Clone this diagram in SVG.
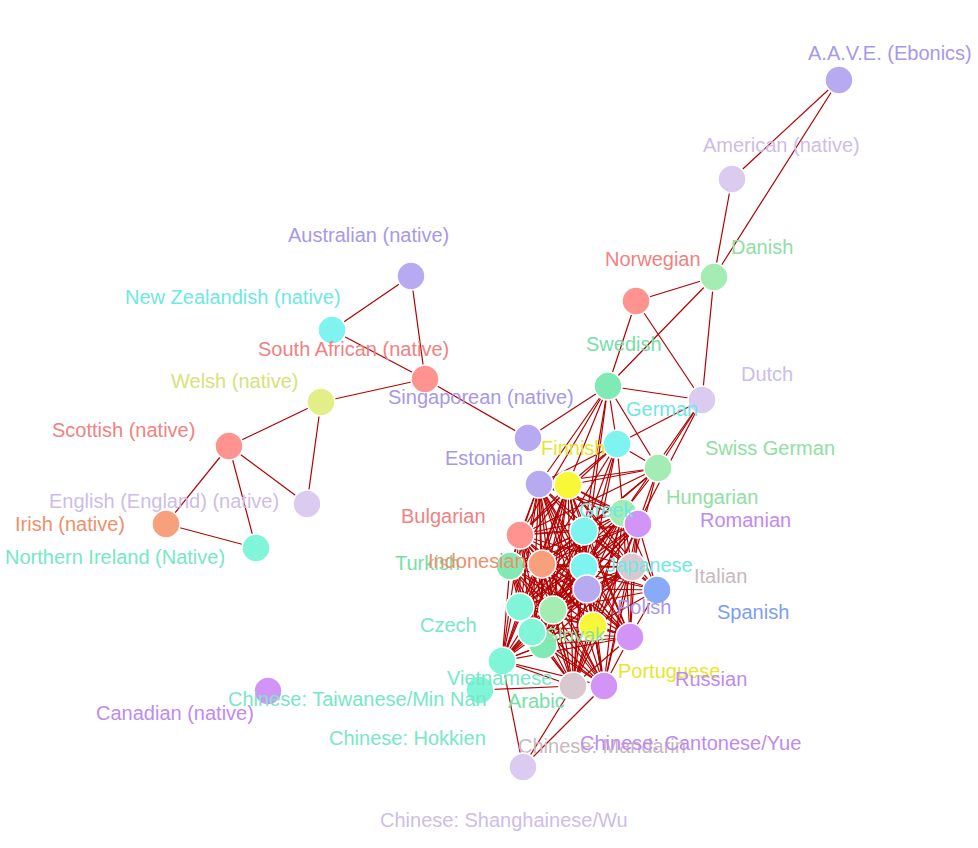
<svg xmlns="http://www.w3.org/2000/svg" width="978" height="848" viewBox="0 0 978 848">
<style>
.e line{stroke:#b30000;stroke-width:1.2}
circle{stroke:#fff;stroke-width:1.5}
text{font-family:"Liberation Sans",Arial,Helvetica,sans-serif;font-size:20px}
.lav circle{fill:#b8aaf0}.lav text{fill:#a898e8}
.lil circle{fill:#dccbf0}.lil text{fill:#cdbde8}
.red circle{fill:#ff9390}.red text{fill:#f08282}
.lgr circle{fill:#a3ecb4}.lgr text{fill:#90e0a2}
.mnt circle{fill:#80eab4}.mnt text{fill:#76e0a8}
.cya circle{fill:#7ef3f0}.cya text{fill:#6ee8e4}
.yel circle{fill:#f8f838}.yel text{fill:#e6e62e}
.wel circle{fill:#e2ef88}.wel text{fill:#d6e27c}
.ora circle{fill:#f8a07c}.ora text{fill:#ee906c}
.aqu circle{fill:#80f5d8}.aqu text{fill:#76e8c6}
.pur circle{fill:#d394f8}.pur text{fill:#c08af0}
.gry circle{fill:#d8c8d0}.gry text{fill:#c8b8c0}
.blu circle{fill:#88aaf8}.blu text{fill:#7c9ef0}
</style>
<rect width="978" height="848" fill="#fff"/>
<g id="connectors" class="e">
<line x1="839" y1="80" x2="732" y2="179"/>
<line x1="839" y1="80" x2="714" y2="277"/>
<line x1="732" y1="179" x2="714" y2="277"/>
<line x1="714" y1="277" x2="636" y2="301"/>
<line x1="714" y1="277" x2="608" y2="386"/>
<line x1="714" y1="277" x2="702" y2="400"/>
<line x1="636" y1="301" x2="608" y2="386"/>
<line x1="636" y1="301" x2="702" y2="400"/>
<line x1="608" y1="386" x2="702" y2="400"/>
<line x1="608" y1="386" x2="528" y2="438"/>
<line x1="425" y1="379" x2="528" y2="438"/>
<line x1="411" y1="276" x2="332" y2="330"/>
<line x1="411" y1="276" x2="425" y2="379"/>
<line x1="332" y1="330" x2="425" y2="379"/>
<line x1="425" y1="379" x2="321" y2="402"/>
<line x1="321" y1="402" x2="229" y2="446"/>
<line x1="321" y1="402" x2="307" y2="504"/>
<line x1="229" y1="446" x2="307" y2="504"/>
<line x1="229" y1="446" x2="166" y2="524"/>
<line x1="229" y1="446" x2="256" y2="548"/>
<line x1="166" y1="524" x2="256" y2="548"/>
<line x1="523" y1="767" x2="502" y2="661"/>
<line x1="523" y1="767" x2="573" y2="686"/>
<line x1="523" y1="767" x2="604" y2="686"/>
<line x1="480" y1="690" x2="573" y2="686"/>
<line x1="608" y1="386" x2="617" y2="444"/>
<line x1="608" y1="386" x2="658" y2="468"/>
<line x1="608" y1="386" x2="568" y2="485"/>
<line x1="608" y1="386" x2="539" y2="484"/>
<line x1="608" y1="386" x2="584" y2="531"/>
<line x1="608" y1="386" x2="584" y2="567"/>
<line x1="608" y1="386" x2="520" y2="535"/>
<line x1="617" y1="444" x2="702" y2="400"/>
<line x1="617" y1="444" x2="658" y2="468"/>
<line x1="617" y1="444" x2="568" y2="485"/>
<line x1="617" y1="444" x2="539" y2="484"/>
<line x1="617" y1="444" x2="584" y2="531"/>
<line x1="617" y1="444" x2="623" y2="513"/>
<line x1="617" y1="444" x2="520" y2="535"/>
<line x1="617" y1="444" x2="584" y2="567"/>
<line x1="617" y1="444" x2="587" y2="589"/>
<line x1="617" y1="444" x2="542" y2="564"/>
<line x1="658" y1="468" x2="702" y2="400"/>
<line x1="658" y1="468" x2="568" y2="485"/>
<line x1="658" y1="468" x2="539" y2="484"/>
<line x1="658" y1="468" x2="584" y2="531"/>
<line x1="658" y1="468" x2="623" y2="513"/>
<line x1="658" y1="468" x2="638" y2="524"/>
<line x1="658" y1="468" x2="520" y2="535"/>
<line x1="658" y1="468" x2="542" y2="564"/>
<line x1="658" y1="468" x2="632" y2="567"/>
<line x1="702" y1="400" x2="623" y2="513"/>
<line x1="702" y1="400" x2="638" y2="524"/>
<line x1="657" y1="590" x2="638" y2="524"/>
<line x1="657" y1="590" x2="623" y2="513"/>
<line x1="657" y1="590" x2="632" y2="567"/>
<line x1="657" y1="590" x2="587" y2="589"/>
<line x1="657" y1="590" x2="584" y2="567"/>
<line x1="657" y1="590" x2="584" y2="531"/>
<line x1="657" y1="590" x2="593" y2="626"/>
<line x1="657" y1="590" x2="630" y2="637"/>
<line x1="657" y1="590" x2="568" y2="485"/>
<line x1="657" y1="590" x2="553" y2="610"/>
<line x1="657" y1="590" x2="542" y2="564"/>
<line x1="539" y1="484" x2="568" y2="485"/>
<line x1="539" y1="484" x2="520" y2="535"/>
<line x1="539" y1="484" x2="584" y2="531"/>
<line x1="539" y1="484" x2="623" y2="513"/>
<line x1="539" y1="484" x2="638" y2="524"/>
<line x1="539" y1="484" x2="510" y2="566"/>
<line x1="539" y1="484" x2="542" y2="564"/>
<line x1="539" y1="484" x2="584" y2="567"/>
<line x1="539" y1="484" x2="632" y2="567"/>
<line x1="539" y1="484" x2="587" y2="589"/>
<line x1="539" y1="484" x2="520" y2="607"/>
<line x1="539" y1="484" x2="553" y2="610"/>
<line x1="539" y1="484" x2="593" y2="626"/>
<line x1="539" y1="484" x2="532" y2="632"/>
<line x1="539" y1="484" x2="630" y2="637"/>
<line x1="539" y1="484" x2="543" y2="645"/>
<line x1="539" y1="484" x2="502" y2="661"/>
<line x1="539" y1="484" x2="573" y2="686"/>
<line x1="539" y1="484" x2="604" y2="686"/>
<line x1="568" y1="485" x2="520" y2="535"/>
<line x1="568" y1="485" x2="584" y2="531"/>
<line x1="568" y1="485" x2="623" y2="513"/>
<line x1="568" y1="485" x2="638" y2="524"/>
<line x1="568" y1="485" x2="510" y2="566"/>
<line x1="568" y1="485" x2="542" y2="564"/>
<line x1="568" y1="485" x2="584" y2="567"/>
<line x1="568" y1="485" x2="632" y2="567"/>
<line x1="568" y1="485" x2="587" y2="589"/>
<line x1="568" y1="485" x2="520" y2="607"/>
<line x1="568" y1="485" x2="553" y2="610"/>
<line x1="568" y1="485" x2="593" y2="626"/>
<line x1="568" y1="485" x2="532" y2="632"/>
<line x1="568" y1="485" x2="630" y2="637"/>
<line x1="568" y1="485" x2="543" y2="645"/>
<line x1="568" y1="485" x2="502" y2="661"/>
<line x1="568" y1="485" x2="573" y2="686"/>
<line x1="568" y1="485" x2="604" y2="686"/>
<line x1="520" y1="535" x2="584" y2="531"/>
<line x1="520" y1="535" x2="623" y2="513"/>
<line x1="520" y1="535" x2="638" y2="524"/>
<line x1="520" y1="535" x2="510" y2="566"/>
<line x1="520" y1="535" x2="542" y2="564"/>
<line x1="520" y1="535" x2="584" y2="567"/>
<line x1="520" y1="535" x2="632" y2="567"/>
<line x1="520" y1="535" x2="587" y2="589"/>
<line x1="520" y1="535" x2="520" y2="607"/>
<line x1="520" y1="535" x2="553" y2="610"/>
<line x1="520" y1="535" x2="593" y2="626"/>
<line x1="520" y1="535" x2="532" y2="632"/>
<line x1="520" y1="535" x2="630" y2="637"/>
<line x1="520" y1="535" x2="543" y2="645"/>
<line x1="520" y1="535" x2="502" y2="661"/>
<line x1="520" y1="535" x2="573" y2="686"/>
<line x1="520" y1="535" x2="604" y2="686"/>
<line x1="584" y1="531" x2="623" y2="513"/>
<line x1="584" y1="531" x2="638" y2="524"/>
<line x1="584" y1="531" x2="510" y2="566"/>
<line x1="584" y1="531" x2="542" y2="564"/>
<line x1="584" y1="531" x2="584" y2="567"/>
<line x1="584" y1="531" x2="632" y2="567"/>
<line x1="584" y1="531" x2="587" y2="589"/>
<line x1="584" y1="531" x2="520" y2="607"/>
<line x1="584" y1="531" x2="553" y2="610"/>
<line x1="584" y1="531" x2="593" y2="626"/>
<line x1="584" y1="531" x2="532" y2="632"/>
<line x1="584" y1="531" x2="630" y2="637"/>
<line x1="584" y1="531" x2="543" y2="645"/>
<line x1="584" y1="531" x2="502" y2="661"/>
<line x1="584" y1="531" x2="573" y2="686"/>
<line x1="584" y1="531" x2="604" y2="686"/>
<line x1="623" y1="513" x2="638" y2="524"/>
<line x1="623" y1="513" x2="510" y2="566"/>
<line x1="623" y1="513" x2="542" y2="564"/>
<line x1="623" y1="513" x2="584" y2="567"/>
<line x1="623" y1="513" x2="632" y2="567"/>
<line x1="623" y1="513" x2="587" y2="589"/>
<line x1="623" y1="513" x2="520" y2="607"/>
<line x1="623" y1="513" x2="553" y2="610"/>
<line x1="623" y1="513" x2="593" y2="626"/>
<line x1="623" y1="513" x2="532" y2="632"/>
<line x1="623" y1="513" x2="630" y2="637"/>
<line x1="623" y1="513" x2="543" y2="645"/>
<line x1="623" y1="513" x2="502" y2="661"/>
<line x1="623" y1="513" x2="573" y2="686"/>
<line x1="623" y1="513" x2="604" y2="686"/>
<line x1="638" y1="524" x2="510" y2="566"/>
<line x1="638" y1="524" x2="542" y2="564"/>
<line x1="638" y1="524" x2="584" y2="567"/>
<line x1="638" y1="524" x2="632" y2="567"/>
<line x1="638" y1="524" x2="587" y2="589"/>
<line x1="638" y1="524" x2="520" y2="607"/>
<line x1="638" y1="524" x2="553" y2="610"/>
<line x1="638" y1="524" x2="593" y2="626"/>
<line x1="638" y1="524" x2="532" y2="632"/>
<line x1="638" y1="524" x2="630" y2="637"/>
<line x1="638" y1="524" x2="543" y2="645"/>
<line x1="638" y1="524" x2="502" y2="661"/>
<line x1="638" y1="524" x2="573" y2="686"/>
<line x1="638" y1="524" x2="604" y2="686"/>
<line x1="510" y1="566" x2="542" y2="564"/>
<line x1="510" y1="566" x2="584" y2="567"/>
<line x1="510" y1="566" x2="632" y2="567"/>
<line x1="510" y1="566" x2="587" y2="589"/>
<line x1="510" y1="566" x2="520" y2="607"/>
<line x1="510" y1="566" x2="553" y2="610"/>
<line x1="510" y1="566" x2="593" y2="626"/>
<line x1="510" y1="566" x2="532" y2="632"/>
<line x1="510" y1="566" x2="630" y2="637"/>
<line x1="510" y1="566" x2="543" y2="645"/>
<line x1="510" y1="566" x2="502" y2="661"/>
<line x1="510" y1="566" x2="573" y2="686"/>
<line x1="510" y1="566" x2="604" y2="686"/>
<line x1="542" y1="564" x2="584" y2="567"/>
<line x1="542" y1="564" x2="632" y2="567"/>
<line x1="542" y1="564" x2="587" y2="589"/>
<line x1="542" y1="564" x2="520" y2="607"/>
<line x1="542" y1="564" x2="553" y2="610"/>
<line x1="542" y1="564" x2="593" y2="626"/>
<line x1="542" y1="564" x2="532" y2="632"/>
<line x1="542" y1="564" x2="630" y2="637"/>
<line x1="542" y1="564" x2="543" y2="645"/>
<line x1="542" y1="564" x2="502" y2="661"/>
<line x1="542" y1="564" x2="573" y2="686"/>
<line x1="542" y1="564" x2="604" y2="686"/>
<line x1="584" y1="567" x2="632" y2="567"/>
<line x1="584" y1="567" x2="587" y2="589"/>
<line x1="584" y1="567" x2="520" y2="607"/>
<line x1="584" y1="567" x2="553" y2="610"/>
<line x1="584" y1="567" x2="593" y2="626"/>
<line x1="584" y1="567" x2="532" y2="632"/>
<line x1="584" y1="567" x2="630" y2="637"/>
<line x1="584" y1="567" x2="543" y2="645"/>
<line x1="584" y1="567" x2="502" y2="661"/>
<line x1="584" y1="567" x2="573" y2="686"/>
<line x1="584" y1="567" x2="604" y2="686"/>
<line x1="632" y1="567" x2="587" y2="589"/>
<line x1="632" y1="567" x2="520" y2="607"/>
<line x1="632" y1="567" x2="553" y2="610"/>
<line x1="632" y1="567" x2="593" y2="626"/>
<line x1="632" y1="567" x2="532" y2="632"/>
<line x1="632" y1="567" x2="630" y2="637"/>
<line x1="632" y1="567" x2="543" y2="645"/>
<line x1="632" y1="567" x2="502" y2="661"/>
<line x1="632" y1="567" x2="573" y2="686"/>
<line x1="632" y1="567" x2="604" y2="686"/>
<line x1="587" y1="589" x2="520" y2="607"/>
<line x1="587" y1="589" x2="553" y2="610"/>
<line x1="587" y1="589" x2="593" y2="626"/>
<line x1="587" y1="589" x2="532" y2="632"/>
<line x1="587" y1="589" x2="630" y2="637"/>
<line x1="587" y1="589" x2="543" y2="645"/>
<line x1="587" y1="589" x2="502" y2="661"/>
<line x1="587" y1="589" x2="573" y2="686"/>
<line x1="587" y1="589" x2="604" y2="686"/>
<line x1="520" y1="607" x2="553" y2="610"/>
<line x1="520" y1="607" x2="593" y2="626"/>
<line x1="520" y1="607" x2="532" y2="632"/>
<line x1="520" y1="607" x2="630" y2="637"/>
<line x1="520" y1="607" x2="543" y2="645"/>
<line x1="520" y1="607" x2="502" y2="661"/>
<line x1="520" y1="607" x2="573" y2="686"/>
<line x1="520" y1="607" x2="604" y2="686"/>
<line x1="553" y1="610" x2="593" y2="626"/>
<line x1="553" y1="610" x2="532" y2="632"/>
<line x1="553" y1="610" x2="630" y2="637"/>
<line x1="553" y1="610" x2="543" y2="645"/>
<line x1="553" y1="610" x2="502" y2="661"/>
<line x1="553" y1="610" x2="573" y2="686"/>
<line x1="553" y1="610" x2="604" y2="686"/>
<line x1="593" y1="626" x2="532" y2="632"/>
<line x1="593" y1="626" x2="630" y2="637"/>
<line x1="593" y1="626" x2="543" y2="645"/>
<line x1="593" y1="626" x2="502" y2="661"/>
<line x1="593" y1="626" x2="573" y2="686"/>
<line x1="593" y1="626" x2="604" y2="686"/>
<line x1="532" y1="632" x2="630" y2="637"/>
<line x1="532" y1="632" x2="543" y2="645"/>
<line x1="532" y1="632" x2="502" y2="661"/>
<line x1="532" y1="632" x2="573" y2="686"/>
<line x1="532" y1="632" x2="604" y2="686"/>
<line x1="630" y1="637" x2="543" y2="645"/>
<line x1="630" y1="637" x2="502" y2="661"/>
<line x1="630" y1="637" x2="573" y2="686"/>
<line x1="630" y1="637" x2="604" y2="686"/>
<line x1="543" y1="645" x2="502" y2="661"/>
<line x1="543" y1="645" x2="573" y2="686"/>
<line x1="543" y1="645" x2="604" y2="686"/>
<line x1="502" y1="661" x2="573" y2="686"/>
<line x1="502" y1="661" x2="604" y2="686"/>
</g>
<g id="aave" class="lav"><circle cx="839" cy="80" r="14"/><text x="808" y="60">A.A.V.E. (Ebonics)</text></g>
<g id="american" class="lil"><circle cx="732" cy="179" r="14"/><text x="703" y="152">American (native)</text></g>
<g id="danish" class="lgr"><circle cx="714" cy="277" r="14"/><text x="731" y="254">Danish</text></g>
<g id="norwegian" class="red"><circle cx="636" cy="301" r="14"/><text x="605" y="266">Norwegian</text></g>
<g id="swedish" class="mnt"><circle cx="608" cy="386" r="14"/><text x="586" y="351">Swedish</text></g>
<g id="dutch" class="lil"><circle cx="702" cy="400" r="14"/><text x="741" y="381">Dutch</text></g>
<g id="german" class="cya"><circle cx="617" cy="444" r="14"/><text x="626" y="416">German</text></g>
<g id="swiss-german" class="lgr"><circle cx="658" cy="468" r="14"/><text x="705" y="455">Swiss German</text></g>
<g id="australian" class="lav"><circle cx="411" cy="276" r="14"/><text x="288" y="242">Australian (native)</text></g>
<g id="new-zealandish" class="cya"><circle cx="332" cy="330" r="14"/><text x="125" y="304">New Zealandish (native)</text></g>
<g id="south-african" class="red"><circle cx="425" cy="379" r="14"/><text x="258" y="356">South African (native)</text></g>
<g id="welsh" class="wel"><circle cx="321" cy="402" r="14"/><text x="171" y="388">Welsh (native)</text></g>
<g id="scottish" class="red"><circle cx="229" cy="446" r="14"/><text x="52" y="437">Scottish (native)</text></g>
<g id="english" class="lil"><circle cx="307" cy="504" r="14"/><text x="49" y="508">English (England) (native)</text></g>
<g id="irish" class="ora"><circle cx="166" cy="524" r="14"/><text x="15" y="531">Irish (native)</text></g>
<g id="northern-ireland" class="aqu"><circle cx="256" cy="548" r="14"/><text x="5" y="564">Northern Ireland (Native)</text></g>
<g id="canadian" class="pur"><circle cx="268" cy="691" r="14"/><text x="96" y="720">Canadian (native)</text></g>
<g id="singaporean" class="lav"><circle cx="528" cy="438" r="14"/><text x="388" y="404">Singaporean (native)</text></g>
<g id="estonian" class="lav"><circle cx="539" cy="484" r="14"/><text x="445" y="465">Estonian</text></g>
<g id="finnish" class="yel"><circle cx="568" cy="485" r="14"/><text x="541" y="455">Finnish</text></g>
<g id="hungarian" class="lgr"><circle cx="623" cy="513" r="14"/><text x="666" y="504">Hungarian</text></g>
<g id="romanian" class="pur"><circle cx="638" cy="524" r="14"/><text x="700" y="527">Romanian</text></g>
<g id="greek" class="cya"><circle cx="584" cy="531" r="14"/><text x="579" y="517">Greek</text></g>
<g id="bulgarian" class="red"><circle cx="520" cy="535" r="14"/><text x="401" y="523">Bulgarian</text></g>
<g id="turkish" class="mnt"><circle cx="510" cy="566" r="14"/><text x="395" y="570">Turkish</text></g>
<g id="indonesian" class="ora"><circle cx="542" cy="564" r="14"/><text x="428" y="568">Indonesian</text></g>
<g id="italian" class="gry"><circle cx="632" cy="567" r="14"/><text x="694" y="583">Italian</text></g>
<g id="japanese" class="cya"><circle cx="584" cy="567" r="14"/><text x="606" y="572">Japanese</text></g>
<g id="spanish" class="blu"><circle cx="657" cy="590" r="14"/><text x="717" y="619">Spanish</text></g>
<g id="polish" class="lav"><circle cx="587" cy="589" r="14"/><text x="617" y="614">Polish</text></g>
<g id="czech" class="aqu"><circle cx="520" cy="607" r="14"/><text x="420" y="632">Czech</text></g>
<g id="arabic" class="mnt"><circle cx="543" cy="645" r="14"/><text x="508" y="708">Arabic</text></g>
<g id="hokkien" class="aqu"><circle cx="532" cy="632" r="14"/><text x="329" y="745">Chinese: Hokkien</text></g>
<g id="portuguese" class="yel"><circle cx="593" cy="626" r="14"/><text x="618" y="678">Portuguese</text></g>
<g id="slovak" class="lgr"><circle cx="553" cy="610" r="14"/><text x="545" y="642">Slovak</text></g>
<g id="russian" class="pur"><circle cx="630" cy="637" r="14"/><text x="675" y="686">Russian</text></g>
<g id="taiwanese" class="aqu"><circle cx="480" cy="690" r="14"/><text x="228" y="706">Chinese: Taiwanese/Min Nan</text></g>
<g id="vietnamese" class="aqu"><circle cx="502" cy="661" r="14"/><text x="447" y="685">Vietnamese</text></g>
<g id="mandarin" class="gry"><circle cx="573" cy="686" r="14"/><text x="518" y="753">Chinese: Mandarin</text></g>
<g id="cantonese" class="pur"><circle cx="604" cy="686" r="14"/><text x="580" y="750">Chinese: Cantonese/Yue</text></g>
<g id="shanghainese" class="lil"><circle cx="523" cy="767" r="14"/><text x="380" y="827">Chinese: Shanghainese/Wu</text></g>
</svg>
